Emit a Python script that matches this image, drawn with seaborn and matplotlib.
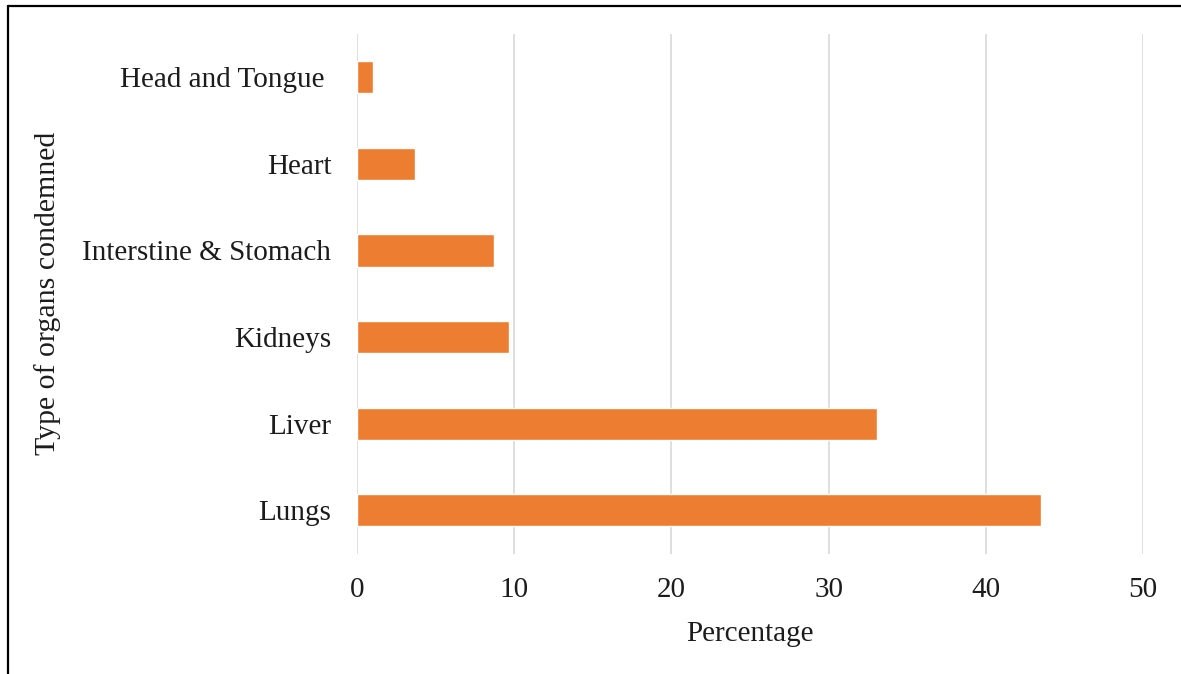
import matplotlib
matplotlib.use("Agg")
import matplotlib.pyplot as plt
from matplotlib.lines import Line2D
import seaborn as sns
import pandas as pd

# Share of condemned organs by type (%)
organs = ["Head and Tongue ", "Heart", "Interstine & Stomach", "Kidneys", "Liver", "Lungs"]
percentages = [1.0, 3.7, 8.7, 9.7, 33.1, 43.5]
x_ticks = [0, 10, 20, 30, 40, 50]

df = pd.DataFrame({"organ": organs, "pct": percentages})

sns.set_theme(style="white")
plt.rcParams["font.family"] = ["Liberation Serif", "DejaVu Serif"]

TEXT = "#1c1c1c"

fig = plt.figure(figsize=(11.81, 6.74), dpi=100)
ax = fig.add_axes([0.3023, 0.1786, 0.9678 - 0.3023, 0.9496 - 0.1786])

sns.barplot(data=df, x="pct", y="organ", order=organs, orient="h",
            color="#ED7D31", saturation=1, width=0.37, ax=ax, zorder=3)

ax.set_xlim(0, 50)
ax.set_xticks(x_ticks)
ax.set_xticklabels([str(t) for t in x_ticks])
ax.xaxis.grid(True, color="#d9d9d9", linewidth=1.2, zorder=0)
ax.yaxis.grid(False)
for s in ax.spines.values():
    s.set_visible(False)

ax.tick_params(axis="y", length=0, pad=18.5, labelsize=21, labelcolor=TEXT)
ax.tick_params(axis="x", length=0, pad=16.5, labelsize=21, labelcolor=TEXT)

ax.set_xlabel("Percentage", fontsize=21, color=TEXT, labelpad=13)
ax.set_ylabel("Type of organs condemned", fontsize=21.5, color=TEXT)
ax.yaxis.set_label_coords(-0.376, 0.5)

# Thin black frame along the left and top edges
fig.add_artist(Line2D([8 / 1181, 8 / 1181], [0, 1 - 6 / 674],
                      transform=fig.transFigure, color="black", linewidth=1.6))
fig.add_artist(Line2D([8 / 1181, 1], [1 - 6 / 674, 1 - 6 / 674],
                      transform=fig.transFigure, color="black", linewidth=1.6))

fig.savefig("out.png", dpi=100)
